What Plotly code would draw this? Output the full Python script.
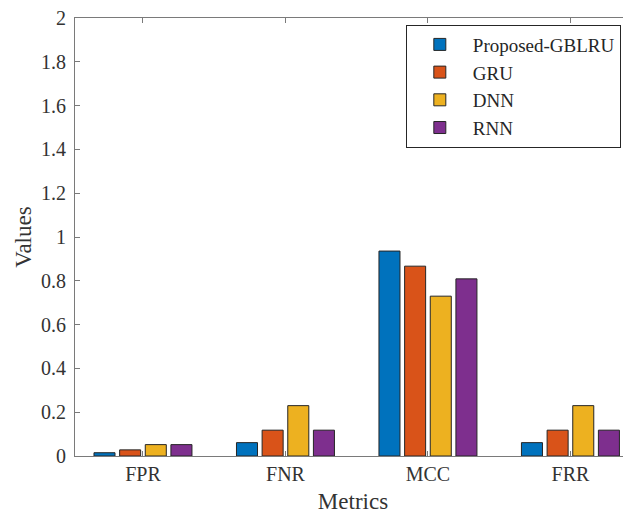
import plotly.graph_objects as go

categories = ["FPR", "FNR", "MCC", "FRR"]
proposed_gblru = [0.015, 0.061, 0.936, 0.061]
gru = [0.028, 0.118, 0.867, 0.118]
dnn = [0.052, 0.230, 0.730, 0.230]
rnn = [0.052, 0.118, 0.809, 0.118]
series_names = ["Proposed-GBLRU", "GRU", "DNN", "RNN"]
series_values = [proposed_gblru, gru, dnn, rnn]
colors = ["#0072BD", "#D95319", "#EDB120", "#7E2F8E"]
y_tickvals = [0, 0.2, 0.4, 0.6, 0.8, 1, 1.2, 1.4, 1.6, 1.8, 2]
y_ticktext = ["0", "0.2", "0.4", "0.6", "0.8", "1", "1.2", "1.4", "1.6", "1.8", "2"]

FONT = "Liberation Serif"
AXIS = "#7a7a7a"
TXT = "#333333"

fig = go.Figure()
for name, vals, c in zip(series_names, series_values, colors):
    fig.add_trace(go.Bar(
        x=categories, y=vals, name=name,
        marker=dict(color=c, line=dict(color="#262626", width=1)),
    ))

# page shows the figure offset by ~8px (body margin); sizes compensate for that
fig.update_layout(
    width=623, height=508,
    margin=dict(l=67, r=0, t=10, b=60, autoexpand=False),
    paper_bgcolor="white", plot_bgcolor="white",
    barmode="group", bargap=0.28, bargroupgap=0.18,
    font=dict(family=FONT, size=20, color=TXT),
    showlegend=True,
    legend=dict(
        x=0.595, y=0.985, xanchor="left", yanchor="top",
        bgcolor="white", bordercolor="#262626", borderwidth=1,
        font=dict(family=FONT, size=19, color="#262626"),
        tracegroupgap=0, itemwidth=56,
    ),
)
fig.update_xaxes(
    type="category", range=[-0.477, 3.425], automargin=False,
    showline=True, linecolor=AXIS, linewidth=1, mirror="ticks",
    ticks="inside", ticklen=5, tickcolor=AXIS,
    showgrid=False, zeroline=False,
    tickfont=dict(family=FONT, size=20, color=TXT),
    title=dict(text="Metrics", font=dict(family=FONT, size=23, color=TXT), standoff=8),
)
fig.update_yaxes(
    range=[0, 2.0005], tickvals=y_tickvals, ticktext=y_ticktext, automargin=False,
    showline=True, linecolor=AXIS, linewidth=1, mirror=False,
    ticks="inside", ticklen=5, tickcolor=AXIS,
    showgrid=False, zeroline=False,
    tickfont=dict(family=FONT, size=20, color=TXT),
    ticklabelstandoff=4, ticklabeloverflow="allow",
    title=dict(text="Values", font=dict(family=FONT, size=23, color=TXT), standoff=2),
)

fig.write_html("out.html")
